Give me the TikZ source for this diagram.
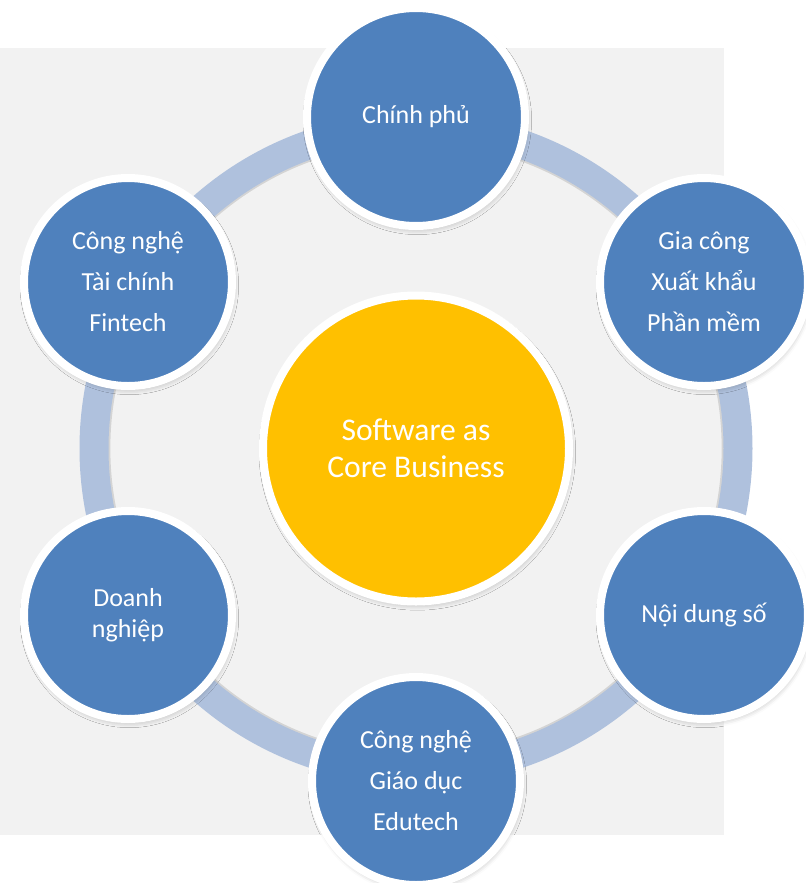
\documentclass[tikz,border=0pt]{standalone}
\usepackage{fontspec}
\setmainfont{Carlito}
\usetikzlibrary{shadows.blur}
\definecolor{satblue}{HTML}{4F81BD}
\definecolor{ringblue}{HTML}{AFC1DD}
\definecolor{coreyellow}{HTML}{FFC000}
\definecolor{bggray}{HTML}{F2F2F2}
\begin{document}
\begin{tikzpicture}[x=0.75pt,y=-0.75pt,
  sat/.style={circle, fill=satblue, draw=white, line width=6pt, minimum size=156pt,
    inner sep=0pt, text=white, align=center,
    font=\fontsize{19.5}{30.75}\selectfont,
    blur shadow={shadow xshift=1pt, shadow yshift=-2.5pt, shadow opacity=28, shadow blur radius=4pt}},
  satsmall/.style={sat, font=\fontsize{19.5}{23.5}\selectfont},
  satbig/.style={sat, minimum size=163.5pt},
  core/.style={circle, fill=coreyellow, draw=white, line width=6pt, minimum size=229.5pt,
    inner sep=0pt, text=white, align=center,
    font=\fontsize{23.7}{27.8}\selectfont,
    blur shadow={shadow xshift=1pt, shadow yshift=-2.5pt, shadow opacity=28, shadow blur radius=4pt}},
  ringline/.style={ringblue, line width=21.75pt},
  ringshade/.style={black, opacity=0.12, line width=2pt}]
\useasboundingbox (0,0) rectangle (806,883);
\fill[bggray] (0,48) rectangle (724,835);
\coordinate (c) at (416,448.5);
\draw[ringshade] (c) circle[radius=307];
\draw[ringline] (c) circle[radius=322];
\node[core] (core) at (c) {Software as\\Core Business};
\node[satbig] (gov) at (416,117) {Chính phủ};
\node[sat] (fin) at (128,282) {Công nghệ\\Tài chính\\Fintech};
\node[sat] (out) at (704,282) {Gia công\\Xuất khẩu\\Phần mềm};
\node[satsmall] (biz) at (128,615) {Doanh\\nghiệp};
\node[sat] (dig) at (704,615) {Nội dung số};
\node[sat] (edu) at (416,781) {Công nghệ\\Giáo dục\\Edutech};
\end{tikzpicture}
\end{document}
